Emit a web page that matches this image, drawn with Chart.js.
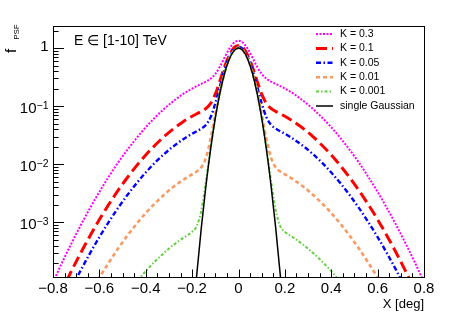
<!DOCTYPE html>
<html>
<head>
<meta charset="utf-8">
<script src="https://cdn.jsdelivr.net/npm/chart.js@4.4.0/dist/chart.umd.min.js"></script>
<style>
  html, body { margin: 0; padding: 0; background: #fff; }
  canvas { display: block; }
</style>
</head>
<body>
<canvas id="psf" width="463" height="315"></canvas>
<script>
const xDeg = [-0.80, -0.76, -0.72, -0.68, -0.64, -0.60, -0.56, -0.52, -0.48, -0.44, -0.40, -0.36, -0.32, -0.28, -0.24,
  -0.22, -0.20, -0.18, -0.16, -0.14, -0.12, -0.10, -0.08, -0.06, -0.04, -0.02, 0,
  0.02, 0.04, 0.06, 0.08, 0.10, 0.12, 0.14, 0.16, 0.18, 0.20, 0.22,
  0.24, 0.28, 0.32, 0.36, 0.40, 0.44, 0.48, 0.52, 0.56, 0.60, 0.64, 0.68, 0.72, 0.76, 0.80];

const k03 = [9.3e-5, 2.07e-4, 4.4e-4, 9.0e-4, 1.77e-3, 3.35e-3, 6.07e-3, 0.0106, 0.0176, 0.0282, 0.0434, 0.0639, 0.0906, 0.123, 0.161,
  0.181, 0.201, 0.222, 0.243, 0.266, 0.298, 0.359, 0.480, 0.690, 0.971, 1.23, 1.34,
  1.23, 0.971, 0.690, 0.480, 0.359, 0.298, 0.266, 0.243, 0.222, 0.201, 0.181,
  0.161, 0.123, 0.0906, 0.0639, 0.0434, 0.0282, 0.0176, 0.0106, 6.07e-3, 3.35e-3, 1.77e-3, 9.0e-4, 4.4e-4, 2.07e-4, 9.3e-5];

const k01 = [3.1e-5, 6.9e-5, 1.47e-4, 3.01e-4, 5.91e-4, 1.12e-3, 2.02e-3, 3.52e-3, 5.87e-3, 9.4e-3, 0.0145, 0.0213, 0.0302, 0.0411, 0.0536,
  0.0603, 0.0671, 0.0741, 0.0815, 0.0916, 0.112, 0.161, 0.273, 0.476, 0.752, 1.01, 1.11,
  1.01, 0.752, 0.476, 0.273, 0.161, 0.112, 0.0916, 0.0815, 0.0741, 0.0671, 0.0603,
  0.0536, 0.0411, 0.0302, 0.0213, 0.0145, 9.4e-3, 5.87e-3, 3.52e-3, 2.02e-3, 1.12e-3, 5.91e-4, 3.01e-4, 1.47e-4, 6.9e-5, 3.1e-5];

const k005 = [1.6e-5, 3.4e-5, 7.3e-5, 1.51e-4, 2.96e-4, 5.59e-4, 1.01e-3, 1.76e-3, 2.93e-3, 4.7e-3, 7.23e-3, 0.0107, 0.0151, 0.0205, 0.0268,
  0.0301, 0.0336, 0.0371, 0.0412, 0.0480, 0.0652, 0.112, 0.222, 0.423, 0.697, 0.951, 1.06,
  0.951, 0.697, 0.423, 0.222, 0.112, 0.0652, 0.0480, 0.0412, 0.0371, 0.0336, 0.0301,
  0.0268, 0.0205, 0.0151, 0.0107, 7.23e-3, 4.7e-3, 2.93e-3, 1.76e-3, 1.01e-3, 5.59e-4, 2.96e-4, 1.51e-4, 7.3e-5, 3.4e-5, 1.6e-5];

const k001 = [null, null, null, 3.0e-5, 5.9e-5, 1.12e-4, 2.02e-4, 3.52e-4, 5.87e-4, 9.4e-4, 1.45e-3, 2.13e-3, 3.02e-3, 4.11e-3, 5.36e-3,
  6.03e-3, 6.73e-3, 7.53e-3, 8.91e-3, 0.0131, 0.0279, 0.0727, 0.180, 0.380, 0.653, 0.906, 1.01,
  0.906, 0.653, 0.380, 0.180, 0.0727, 0.0279, 0.0131, 8.91e-3, 7.53e-3, 6.73e-3, 6.03e-3,
  5.36e-3, 4.11e-3, 3.02e-3, 2.13e-3, 1.45e-3, 9.4e-4, 5.87e-4, 3.52e-4, 2.02e-4, 1.12e-4, 5.9e-5, 3.0e-5, null, null, null];

const k0001 = [null, null, null, null, null, null, null, null, 5.9e-5, 9.4e-5, 1.45e-4, 2.13e-4, 3.02e-4, 4.11e-4, 5.36e-4,
  6.03e-4, 6.87e-4, 8.67e-4, 1.64e-3, 5.27e-3, 0.0195, 0.0638, 0.171, 0.370, 0.643, 0.896, 1.00,
  0.896, 0.643, 0.370, 0.171, 0.0638, 0.0195, 5.27e-3, 1.64e-3, 8.67e-4, 6.87e-4, 6.03e-4,
  5.36e-4, 4.11e-4, 3.02e-4, 2.13e-4, 1.45e-4, 9.4e-5, 5.9e-5, null, null, null, null, null, null, null, null];

const gauss = [null, null, null, null, null, null, null, null, null, null, null, null, null, null, null,
  1.5e-6, 1.55e-5, 1.27e-4, 8.37e-4, 4.40e-3, 0.0186, 0.0628, 0.170, 0.369, 0.642, 0.895, 1.00,
  0.895, 0.642, 0.369, 0.170, 0.0628, 0.0186, 4.40e-3, 8.37e-4, 1.27e-4, 1.55e-5, 1.5e-6,
  null, null, null, null, null, null, null, null, null, null, null, null, null, null, null];

const seriesLabels = ['K = 0.3', 'K = 0.1', 'K = 0.05', 'K = 0.01', 'K = 0.001', 'single Gaussian'];
const seriesData = [k03, k01, k005, k001, k0001, gauss];

const xTickValues = [-0.8, -0.6, -0.4, -0.2, 0, 0.2, 0.4, 0.6, 0.8];
const xTickLabels = ['\u22120.8', '\u22120.6', '\u22120.4', '\u22120.2', '0', '0.2', '0.4', '0.6', '0.8'];
const yTickValues = [1e-3, 1e-2, 1e-1, 1];
const yTickExps = ['\u22123', '\u22122', '\u22121', ''];

const styles = [
  { color: '#ff00ff', width: 2, dash: [2, 1.5] },
  { color: '#ff0000', width: 3, dash: [11, 5] },
  { color: '#0000ff', width: 2.4, dash: [5, 2.5, 1.5, 2.5] },
  { color: '#f99a62', width: 2.6, dash: [4, 3] },
  { color: '#5fd23c', width: 2, dash: [3, 2, 1.5, 2] },
  { color: '#000000', width: 1.5, dash: [] }
];

const FONT = '"Liberation Sans", Arial, Helvetica, sans-serif';

const rootFrame = {
  id: 'rootFrame',
  afterDatasetsDraw(chart) {
    const { ctx, chartArea: a, scales: { x, y } } = chart;
    ctx.save();
    ctx.strokeStyle = '#000';
    ctx.fillStyle = '#000';
    ctx.lineWidth = 1;
    ctx.setLineDash([]);
    ctx.strokeRect(Math.round(a.left) + 0.5, Math.round(a.top) + 0.5,
      Math.round(a.right - a.left), Math.round(a.bottom - a.top));

    // x ticks, inward
    ctx.beginPath();
    for (let i = -16; i <= 16; i++) {
      const v = i * 0.05;
      const px = Math.round(x.getPixelForValue(v)) + 0.5;
      const len = (i % 4 === 0) ? 7.5 : 3.8;
      ctx.moveTo(px, a.bottom);
      ctx.lineTo(px, a.bottom - len);
    }
    // y ticks, inward (log: 1..9 per decade)
    for (let d = -4; d <= 0; d++) {
      for (let m = 1; m <= 9; m++) {
        const v = m * Math.pow(10, d);
        if (v < y.min || v > y.max) continue;
        const py = Math.round(y.getPixelForValue(v)) + 0.5;
        const len = (m === 1) ? 11 : 5.6;
        ctx.moveTo(a.left, py);
        ctx.lineTo(a.left + len, py);
      }
    }
    ctx.stroke();

    // x labels
    ctx.font = '15px ' + FONT;
    ctx.textAlign = 'center';
    ctx.textBaseline = 'alphabetic';
    xTickValues.forEach((v, i) => {
      ctx.fillText(xTickLabels[i], x.getPixelForValue(v), 293);
    });

    // y labels with exponent
    const right = a.left - 4.5;
    yTickValues.forEach((v, i) => {
      const py = y.getPixelForValue(v);
      ctx.textAlign = 'right';
      if (yTickExps[i] === '') {
        ctx.font = '15px ' + FONT;
        ctx.fillText('1', right, py + 2.5);
      } else {
        ctx.font = '10.5px ' + FONT;
        const w = ctx.measureText(yTickExps[i]).width;
        ctx.fillText(yTickExps[i], right, py + 3);
        ctx.font = '15px ' + FONT;
        ctx.fillText('10', right - w, py + 7);
      }
    });

    // axis titles
    ctx.textAlign = 'right';
    ctx.font = '13px ' + FONT;
    ctx.fillText('X [deg]', a.right, 308);

    ctx.save();
    ctx.translate(16, 53);
    ctx.rotate(-Math.PI / 2);
    ctx.textAlign = 'left';
    ctx.font = '15px ' + FONT;
    ctx.fillText('f', 0, 0);
    const fw = ctx.measureText('f').width;
    ctx.font = '8px ' + FONT;
    ctx.fillText('PSF', fw + 9, 2.5);
    ctx.restore();

    // energy range text
    ctx.textAlign = 'left';
    ctx.font = '14px ' + FONT;
    ctx.fillText('E \u2208 [1-10] TeV', 74, 45);

    // legend
    ctx.font = '10.5px ' + FONT;
    ctx.textBaseline = 'middle';
    seriesLabels.forEach((lab, i) => {
      const ly = 34 + i * 14.4;
      ctx.beginPath();
      ctx.strokeStyle = styles[i].color;
      ctx.lineWidth = styles[i].width;
      ctx.setLineDash(styles[i].dash);
      ctx.moveTo(316, ly);
      ctx.lineTo(333, ly);
      ctx.stroke();
      ctx.setLineDash([]);
      ctx.fillStyle = '#000';
      ctx.fillText(lab, 340, ly);
    });
    ctx.restore();
  }
};

new Chart(document.getElementById('psf'), {
  type: 'line',
  data: {
    datasets: seriesData.map((vals, i) => ({
      label: seriesLabels[i],
      data: xDeg.map((xv, j) => ({ x: xv, y: vals[j] })),
      borderColor: styles[i].color,
      borderWidth: styles[i].width,
      borderDash: styles[i].dash,
      pointRadius: 0,
      fill: false,
      clip: 0,
      cubicInterpolationMode: 'monotone',
      order: i === 5 ? 0 : 6 - i
    }))
  },
  options: {
    responsive: false,
    animation: false,
    devicePixelRatio: 1,
    layout: { padding: { left: 53, top: 26, right: 39, bottom: 38 } },
    plugins: { legend: { display: false }, tooltip: { enabled: false } },
    scales: {
      x: { type: 'linear', min: -0.8, max: 0.8, display: false },
      y: { type: 'logarithmic', min: 1.15e-4, max: 2.4, display: false }
    }
  },
  plugins: [rootFrame]
});
</script>
</body>
</html>
